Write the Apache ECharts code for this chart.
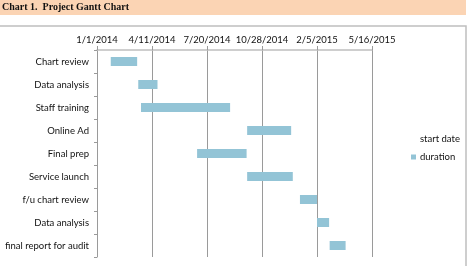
<!DOCTYPE html>
<html>
<head>
<meta charset="utf-8">
<script src="https://cdn.jsdelivr.net/npm/echarts@6/dist/echarts.min.js"></script>
<style>
  html, body { margin: 0; padding: 0; background: #fff; }
  #chart { width: 468px; height: 266px; }
</style>
</head>
<body>
<div id="chart"></div>
<script>
// tasks, top to bottom
const tasks = ['Chart review', 'Data analysis', 'Staff training', 'Online Ad', 'Final prep',
  'Service launch', 'f/u chart review', 'Data analysis', 'final report for audit']
const startDates = ['2014-01-26', '2014-03-17', '2014-03-22', '2014-10-01', '2014-07-02',
  '2014-10-01', '2015-01-05', '2015-02-05', '2015-02-28']
const durations = [48, 35, 162, 80, 90, 83, 31, 22, 29] // days
const axisStart = '2014-01-01'
const axisDays = 500
const tickDays = 100

const DAY = 86400000
const base = Date.parse(axisStart)
const offsets = startDates.map(d => Math.round((Date.parse(d) - base) / DAY))

const fmtDate = v => {
  const d = new Date(base + v * DAY)
  return (d.getUTCMonth() + 1) + '/' + d.getUTCDate() + '/' + d.getUTCFullYear()
}

const font = 'Lato'
const chart = echarts.init(document.getElementById('chart'))
chart.setOption({
  animation: false,
  textStyle: { fontFamily: font },
  graphic: [
    { type: 'rect', shape: { x: 0, y: 0, width: 466, height: 15 }, style: { fill: '#fbd4b4' }, silent: true },
    { type: 'text', left: 2, top: 2, style: { text: 'Chart 1.  Project Gantt Chart', font: 'bold 10px "Liberation Serif"', fill: '#111' } },
    { type: 'rect', shape: { x: -2, y: 26, width: 468, height: 260 }, style: { fill: 'none', stroke: '#bfbfbf', lineWidth: 1.5 }, silent: true }
  ],
  legend: {
    orient: 'vertical',
    left: 406,
    top: 129,
    itemWidth: 5,
    itemHeight: 5,
    itemGap: 8,
    textStyle: { fontFamily: font, fontSize: 9.5, color: '#111', padding: [0, 0, 0, -1] },
    data: [
      { name: 'start date', icon: 'rect', itemStyle: { color: 'transparent' } },
      { name: 'duration', icon: 'rect' }
    ]
  },
  grid: { left: 97, right: 96, top: 50, bottom: 9 },
  xAxis: {
    type: 'value',
    position: 'top',
    min: 0,
    max: axisDays,
    interval: tickDays,
    axisLine: { show: true, lineStyle: { color: '#bfbfbf', width: 1.5 } },
    axisTick: { show: true, length: 4, inside: false, lineStyle: { color: '#9a9a9a' } },
    splitLine: { show: true, lineStyle: { color: '#9a9a9a', width: 1 } },
    axisLabel: { formatter: fmtDate, fontFamily: font, fontSize: 9.5, color: '#111', margin: 5 }
  },
  yAxis: {
    type: 'category',
    inverse: true,
    data: tasks,
    axisLine: { show: true, lineStyle: { color: '#9a9a9a' } },
    axisTick: { show: true, length: 3, lineStyle: { color: '#9a9a9a' } },
    axisLabel: { fontFamily: font, fontSize: 9.5, color: '#111', margin: 8 }
  },
  series: [
    {
      name: 'start date',
      type: 'bar',
      stack: 'gantt',
      data: offsets,
      barWidth: 9,
      itemStyle: { color: 'transparent' },
      silent: true
    },
    {
      name: 'duration',
      type: 'bar',
      stack: 'gantt',
      data: durations,
      barWidth: 9,
      itemStyle: { color: '#93c4d6' }
    }
  ]
})
</script>
</body>
</html>
